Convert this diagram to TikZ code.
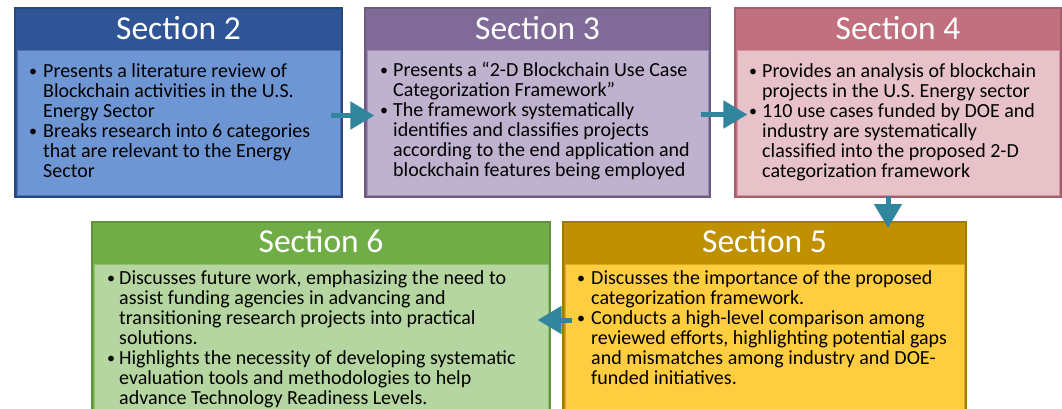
\documentclass[tikz,border=0pt]{standalone}
\usepackage{fontspec}
\setmainfont{Carlito}
\usetikzlibrary{arrows.meta,fit,calc}

% section colours: header band and body panel
\definecolor{ctwohead}{HTML}{2F5597}
\definecolor{ctwobody}{HTML}{6F96D4}
\definecolor{cthreehead}{HTML}{806A98}
\definecolor{cthreebody}{HTML}{BFB2CE}
\definecolor{cfourhead}{HTML}{C0707E}
\definecolor{cfourbody}{HTML}{E7C3C9}
\definecolor{cfivehead}{HTML}{BF9000}
\definecolor{cfivebody}{HTML}{FFCD40}
\definecolor{csixhead}{HTML}{70AD47}
\definecolor{csixbody}{HTML}{B5D6A0}
\definecolor{flowcol}{HTML}{31859C}

% bullet list helpers (\\ inside an item keeps the hanging indent)
\newlength\bind
\newcommand\bul{\par\noindent\hangindent=\bind\hangafter=1%
  \makebox[\bind][l]{\raisebox{1pt}{\scalebox{0.8}{\textbullet}}}}
\newcommand\bodyfont{\fontsize{20}{20}\selectfont}

% one section: name, x1, y1, x2, y2, header bottom, colour stem, title, title baseline
\newcommand\secbox[9]{%
  \node[outerbox, fill=#7head, draw=#7head!85!black, fit={(#2,#3) (#4,#5)}] (#1) {};
  \node[bodybox, fill=#7body, draw=#7head!55!#7body, fit={(#2+2,#6) (#4-2,#5-2)}] (#1b) {};
  \node[titletext, anchor=base] (#1t) at ({(#2+#4)/2},#9) {#8};
}

\begin{document}
\begin{tikzpicture}[x=1pt,y=-1pt,
  outerbox/.style={inner sep=0pt, line width=1.2pt},
  bodybox/.style={inner sep=0pt, line width=0.8pt},
  titletext/.style={inner sep=0pt, text=white, font=\fontsize{33.5}{36}\selectfont},
  bodytext/.style={inner sep=0pt, anchor=base west, text=black},
  flow/.style={draw=flowcol, line width=5pt, -{Triangle[length=24pt,width=27pt]}}]
\clip (0,0) rectangle (1062,408);

\secbox{s2}{15}{8}{342}{197}{50}{ctwo}{Section 2}{39}
\secbox{s3}{365}{8}{710}{197}{50}{cthree}{Section 3}{39}
\secbox{s4}{735}{8}{1061}{197}{50}{cfour}{Section 4}{39}
\secbox{s6}{92}{222}{550}{420}{264}{csix}{Section 6}{252}
\secbox{s5}{563}{222}{966}{420}{264}{cfive}{Section 5}{252}

\node[bodytext] (s2x) at (29,77) {\setlength\bind{14pt}\parbox[t]{400pt}{\bodyfont
\bul Presents a literature review of\\ Blockchain activities in the U.S.\\ Energy Sector
\bul Breaks research into 6 categories\\ that are relevant to the Energy\\ Sector}};

\node[bodytext] (s3x) at (380,76) {\setlength\bind{13pt}\parbox[t]{400pt}{\bodyfont
\bul Presents a “2-D Blockchain Use Case\\ Categorization Framework”
\bul The framework systematically\\ identifies and classifies projects\\ according to the end application and\\ blockchain features being employed}};

\node[bodytext] (s4x) at (749,77) {\setlength\bind{13pt}\parbox[t]{400pt}{\bodyfont
\bul Provides an analysis of blockchain\\ projects in the U.S. Energy sector
\bul 110 use cases funded by DOE and\\ industry are systematically\\ classified into the proposed 2-D\\ categorization framework}};

\node[bodytext] (s6x) at (107,284) {\setlength\bind{12pt}\parbox[t]{500pt}{\bodyfont
\bul Discusses future work, emphasizing the need to\\ assist funding agencies in advancing and\\ transitioning research projects into practical\\ solutions.
\bul Highlights the necessity of developing systematic\\ evaluation tools and methodologies to help\\ advance Technology Readiness Levels.}};

\node[bodytext] (s5x) at (577,284) {\setlength\bind{14pt}\parbox[t]{500pt}{\bodyfont
\bul Discusses the importance of the proposed\\ categorization framework.
\bul Conducts a high-level comparison among\\ reviewed efforts, highlighting potential gaps\\ and mismatches among industry and DOE-\\ funded initiatives.}};

% reading order between sections
\draw[flow] ([xshift=-12pt,yshift=-13pt]s2.east) -- ([xshift=10pt,yshift=-13pt]s3.west);
\draw[flow] ([xshift=-10pt,yshift=-12pt]s3.east) -- ([xshift=13pt,yshift=-12pt]s4.west);
\draw[flow] ([xshift=-10pt,yshift=2pt]s4.south) -- ([xshift=-10pt]s4.south |- 0,228);
\draw[flow] ([xshift=10pt]s5.west |- 0,320) -- ([xshift=-13pt]s6.east |- 0,320);
\end{tikzpicture}
\end{document}
